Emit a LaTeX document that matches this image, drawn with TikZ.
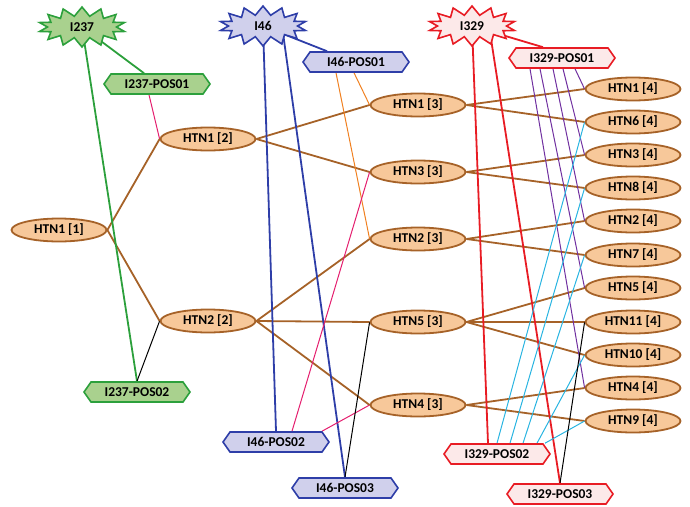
\documentclass[tikz,border=0pt]{standalone}
\usepackage{fontspec}
\setmainfont{Carlito}
\usetikzlibrary{shapes.geometric,shapes.symbols,backgrounds}
\definecolor{htnfill}{RGB}{247,200,154}
\definecolor{htnline}{RGB}{166,98,40}
\definecolor{grnfill}{RGB}{169,209,142}
\definecolor{grnline}{RGB}{44,160,60}
\definecolor{bluefill}{RGB}{208,208,236}
\definecolor{blueline}{RGB}{46,62,168}
\definecolor{redfill}{RGB}{252,233,233}
\definecolor{redline}{RGB}{232,28,36}
\definecolor{pinkline}{RGB}{228,30,110}
\definecolor{orgline}{RGB}{240,128,32}
\definecolor{purpline}{RGB}{112,48,160}
\definecolor{cyanline}{RGB}{40,180,225}
\tikzset{
  htn/.style={ellipse, draw=htnline, fill=htnfill, line width=1.8pt,
    minimum width=95pt, minimum height=23pt, inner sep=0pt},
  burst/.style={starburst, starburst points=14, starburst point height=9pt,
    random starburst=0, line width=1.6pt, minimum width=87pt,
    minimum height=40pt, inner sep=0pt},
  posbox/.style={signal, signal to=west and east, signal pointer angle=110,
    line width=1.6pt, minimum width=106pt, minimum height=20pt, inner sep=0pt},
  grn/.style={draw=grnline, fill=grnfill},
  blu/.style={draw=blueline, fill=bluefill},
  rd/.style={draw=redline, fill=redfill},
  thick line/.style={line width=1.8pt},
  thin line/.style={line width=1pt}
}
\begin{document}
\begin{tikzpicture}[x=1pt, y=-1pt,
    every node/.style={font=\bfseries\fontsize{13.5}{15}\selectfont}]
  \useasboundingbox (0,0) rectangle (690,506);
  \draw
    (82,27) node[burst,grn] (s237){I237}
    (263,26) node[burst,blu] (s46){I46}
    (472,26) node[burst,rd] (s329){I329}
    (157,84) node[posbox,grn] (p237-1){I237-POS01}
    (137,392) node[posbox,grn] (p237-2){I237-POS02}
    (356,62) node[posbox,blu] (p46-1){I46-POS01}
    (276,442) node[posbox,blu] (p46-2){I46-POS02}
    (345,488) node[posbox,blu] (p46-3){I46-POS03}
    (562,58) node[posbox,rd] (p329-1){I329-POS01}
    (497,454) node[posbox,rd] (p329-2){I329-POS02}
    (560,494) node[posbox,rd] (p329-3){I329-POS03};
  \draw
    (59,230) node[htn] (h1-1){HTN1 [1]}
    (208,139) node[htn] (h1-2){HTN1 [2]}
    (208,321) node[htn] (h2-2){HTN2 [2]}
    (418,105) node[htn] (h1-3){HTN1 [3]}
    (418,172) node[htn] (h3-3){HTN3 [3]}
    (418,239) node[htn] (h2-3){HTN2 [3]}
    (418,322) node[htn] (h5-3){HTN5 [3]}
    (418,405) node[htn] (h4-3){HTN4 [3]}
    (633,89) node[htn] (h1-4){HTN1 [4]}
    (633,122) node[htn] (h6-4){HTN6 [4]}
    (633,155) node[htn] (h3-4){HTN3 [4]}
    (633,188) node[htn] (h8-4){HTN8 [4]}
    (633,221) node[htn] (h2-4){HTN2 [4]}
    (633,255) node[htn] (h7-4){HTN7 [4]}
    (633,288) node[htn] (h5-4){HTN5 [4]}
    (633,322) node[htn] (h11-4){HTN11 [4]}
    (633,355) node[htn] (h10-4){HTN10 [4]}
    (633,388) node[htn] (h4-4){HTN4 [4]}
    (633,421) node[htn] (h9-4){HTN9 [4]};
  \begin{scope}[on background layer]
    % tree
    \begin{scope}[htnline, thick line]
      \draw (h1-1.east) to (h1-2.west);
      \draw (h1-1.east) to (h2-2.west);
      \draw (h1-2.east) to (h1-3.west);
      \draw (h1-2.east) to (h3-3.west);
      \draw (h2-2.east) to (h2-3.west);
      \draw (h2-2.east) to (h5-3.west);
      \draw (h2-2.east) to (h4-3.west);
      \draw (h1-3.east) to (h1-4.west);
      \draw (h1-3.east) to (h6-4.west);
      \draw (h3-3.east) to (h3-4.west);
      \draw (h3-3.east) to (h8-4.west);
      \draw (h2-3.east) to (h2-4.west);
      \draw (h2-3.east) to (h7-4.west);
      \draw (h5-3.east) to (h5-4.west);
      \draw (h5-3.east) to (h11-4.west);
      \draw (h5-3.east) to (h10-4.west);
      \draw (h4-3.east) to (h4-4.west);
      \draw (h4-3.east) to (h9-4.west);
    \end{scope}
    % groups to positions
    \begin{scope}[thick line]
      \draw[grnline] (s237.center) to ([xshift=-13pt]p237-1.north);
      \draw[grnline] (s237.center) to (p237-2.north);
      \draw[blueline] (s46.center) to ([xshift=-29pt]p46-1.north);
      \draw[blueline] (s46.center) to (p46-2.north);
      \draw[blueline] ([xshift=19pt]s46.center) to (p46-3.north);
      \draw[redline] (s329.center) to ([xshift=-19pt]p329-1.north);
      \draw[redline] (s329.center) to ([xshift=-9pt]p329-2.north);
      \draw[redline] ([xshift=17pt]s329.center) to (p329-3.north);
    \end{scope}
    % positions to htn
    \begin{scope}[thin line]
      \draw[pinkline] ([xshift=-8pt]p237-1.south) to (h1-2.west);
      \draw (h2-2.west) to (p237-2.north);
      \draw[orgline] ([xshift=-20pt]p46-1.south) to (h2-3.west);
      \draw[orgline] ([xshift=-2pt]p46-1.south) to (h1-3.west);
      \draw[pinkline] ([xshift=16pt]p46-2.north) to (h3-3.west);
      \draw[pinkline] ([xshift=46pt]p46-2.north) to (h4-3.west);
      \draw (h5-3.west) to (p46-3.north);
      \draw[purpline] ([xshift=-32pt]p329-1.south) to (h4-4.west);
      \draw[purpline] ([xshift=-22pt]p329-1.south) to (h5-4.west);
      \draw[purpline] ([xshift=-9pt]p329-1.south) to (h2-4.west);
      \draw[purpline] ([xshift=1pt]p329-1.south) to (h3-4.west);
      \draw[purpline] ([xshift=13pt]p329-1.south) to (h1-4.west);
      \draw[cyanline] (p329-2.north) to (h6-4.west);
      \draw[cyanline] ([xshift=13pt]p329-2.north) to (h8-4.west);
      \draw[cyanline] ([xshift=26pt]p329-2.north) to (h7-4.west);
      \draw[cyanline] ([xshift=40pt]p329-2.north) to (h10-4.west);
      \draw[cyanline] ([xshift=48pt]p329-2.north) to (h9-4.west);
      \draw (h11-4.west) to (p329-3.north);
    \end{scope}
  \end{scope}
\end{tikzpicture}
\end{document}
